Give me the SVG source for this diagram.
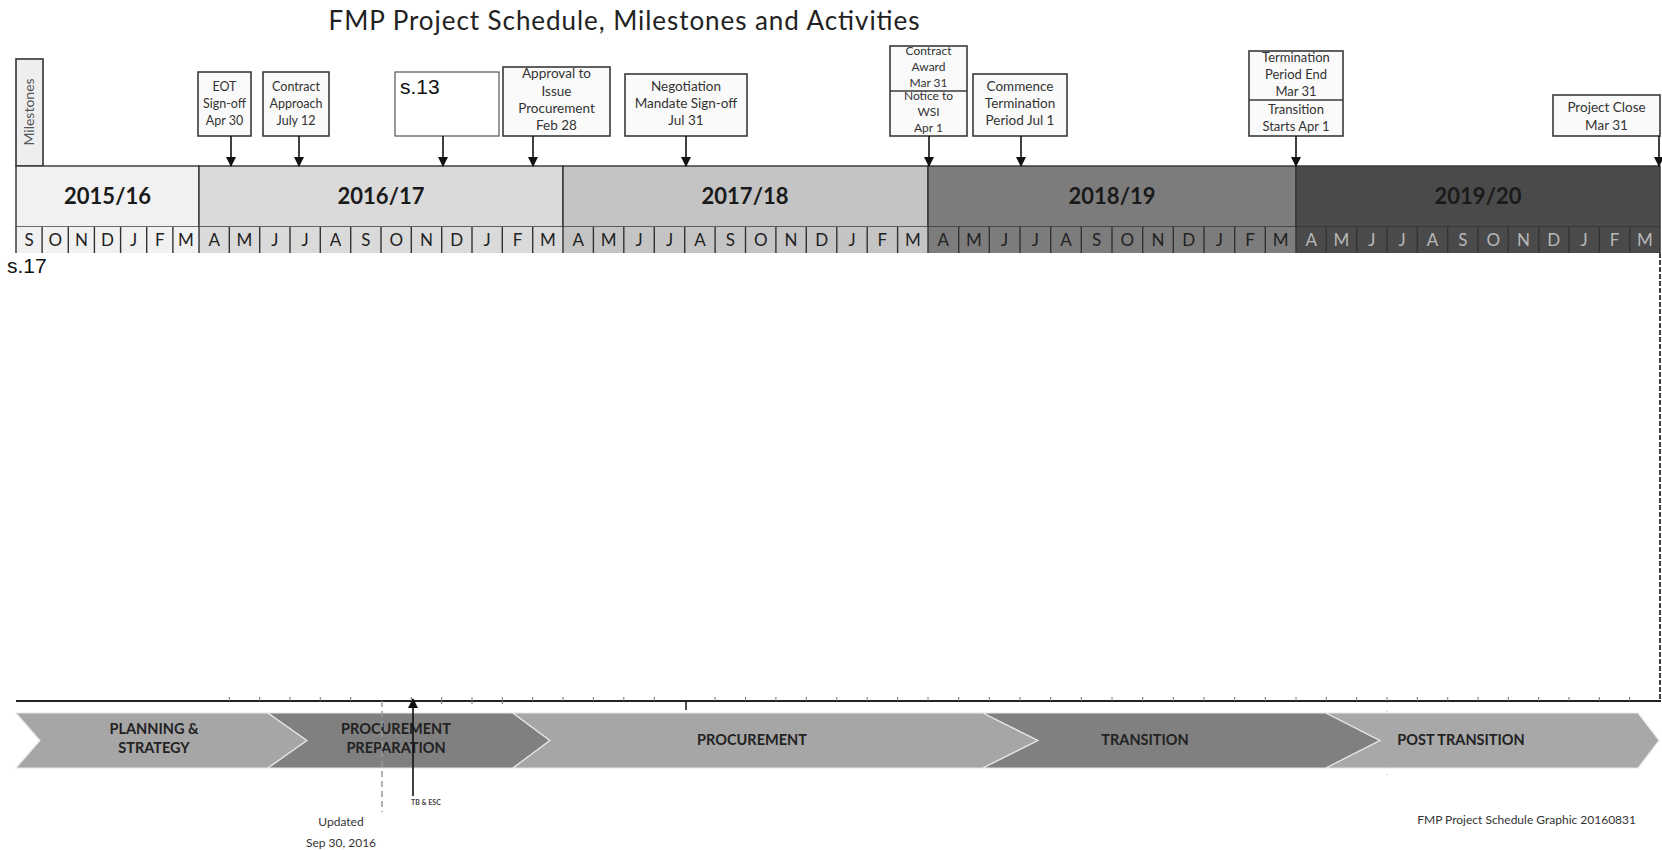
<svg xmlns="http://www.w3.org/2000/svg" width="1662" height="850" viewBox="0 0 1662 850">
<defs>
<style>
.t{font-family:Lato,"Open Sans","Liberation Sans",sans-serif}
.box{fill:#fafafa;stroke:#3a3a3a;stroke-width:1.6}
.lbl{font-family:Lato,"Open Sans","Liberation Sans",sans-serif;font-size:13.5px;fill:#333;text-anchor:middle}
.sm{font-size:12px}
.md{font-size:13px}
.xs{font-size:12.5px}
.yr{font-family:Lato,"Open Sans","Liberation Sans",sans-serif;font-size:22px;font-weight:bold;fill:#1a1a1a;text-anchor:middle}
.mo{font-family:Lato,"Open Sans","Liberation Sans",sans-serif;font-size:17px;fill:#222;text-anchor:middle}
.cell{stroke:#333;stroke-width:1.4}
.ph{font-family:Lato,"Open Sans","Liberation Sans",sans-serif;font-size:14.5px;font-weight:bold;fill:#222;text-anchor:middle}
.chev{stroke:#e6e6e6;stroke-width:1.2}
.arr{stroke:#111;stroke-width:1.6;fill:none}
.red{font-family:"Liberation Sans",Arial,sans-serif;font-size:21px;fill:#111}
</style>
<marker id="ah" viewBox="0 0 10 10" refX="9" refY="5" markerWidth="10" markerHeight="10" markerUnits="userSpaceOnUse" orient="auto">
<path d="M0,0 L10,5 L0,10 Z" fill="#111"/>
</marker>
</defs>
<rect width="1662" height="850" fill="#ffffff"/>

<text class="t" x="624" y="30" font-size="26" fill="#222" text-anchor="middle" textLength="591" lengthAdjust="spacing">FMP Project Schedule, Milestones and Activities</text>

<g id="milestones-label">
<rect x="16" y="59" width="27" height="107" fill="#eeeeee" stroke="#333" stroke-width="1.6"/>
<text class="t" font-size="14" fill="#555" text-anchor="middle" transform="translate(34,112) rotate(-90)">Milestones</text>
</g>

<g id="years">
<rect x="16" y="166" width="183" height="61" fill="#f1f1f1" class="cell"/>
<rect x="199" y="166" width="364" height="61" fill="#dadada" class="cell"/>
<rect x="563" y="166" width="365" height="61" fill="#c4c4c4" class="cell"/>
<rect x="928" y="166" width="368" height="61" fill="#7c7c7c" class="cell"/>
<rect x="1296" y="166" width="364" height="61" fill="#4a4a4a" class="cell"/>
<text class="yr" x="107.5" y="204">2015/16</text>
<text class="yr" x="381" y="204">2016/17</text>
<text class="yr" x="745" y="204">2017/18</text>
<text class="yr" x="1112" y="204">2018/19</text>
<text class="yr" x="1478" y="204" fill="#d6d6d6">2019/20</text>
</g>

<g id="months">
<rect x="16" y="227" width="183" height="26" fill="#f1f1f1"/>
<rect x="199" y="227" width="364" height="26" fill="#dadada"/>
<rect x="563" y="227" width="365" height="26" fill="#c4c4c4"/>
<rect x="928" y="227" width="368" height="26" fill="#7c7c7c"/>
<rect x="1296" y="227" width="364" height="26" fill="#4a4a4a"/>
<path d="M16,227V253 M42.1,227V253 M68.3,227V253 M94.4,227V253 M120.6,227V253 M146.7,227V253 M172.9,227V253 M199,227V253 M229.3,227V253 M259.7,227V253 M290,227V253 M320.3,227V253 M350.7,227V253 M381,227V253 M411.3,227V253 M441.7,227V253 M472,227V253 M502.3,227V253 M532.7,227V253 M563,227V253 M593.4,227V253 M623.8,227V253 M654.3,227V253 M684.7,227V253 M715.1,227V253 M745.5,227V253 M775.9,227V253 M806.3,227V253 M836.8,227V253 M867.2,227V253 M897.6,227V253 M928,227V253 M958.7,227V253 M989.3,227V253 M1020,227V253 M1050.7,227V253 M1081.3,227V253 M1112,227V253 M1142.7,227V253 M1173.3,227V253 M1204,227V253 M1234.7,227V253 M1265.3,227V253 M1296,227V253 M1326.3,227V253 M1356.7,227V253 M1387,227V253 M1417.3,227V253 M1447.7,227V253 M1478,227V253 M1508.3,227V253 M1538.7,227V253 M1569,227V253 M1599.3,227V253 M1629.7,227V253 M1660,227V253" stroke="#333" stroke-width="1.4" fill="none"/>
<g class="mo">
<text x="29.1" y="246">S</text><text x="55.2" y="246">O</text><text x="81.4" y="246">N</text><text x="107.5" y="246">D</text><text x="133.6" y="246">J</text><text x="159.8" y="246">F</text><text x="185.9" y="246">M</text>
<text x="214.2" y="246">A</text><text x="244.5" y="246">M</text><text x="274.8" y="246">J</text><text x="305.2" y="246">J</text><text x="335.5" y="246">A</text><text x="365.8" y="246">S</text><text x="396.2" y="246">O</text><text x="426.5" y="246">N</text><text x="456.8" y="246">D</text><text x="487.2" y="246">J</text><text x="517.5" y="246">F</text><text x="547.8" y="246">M</text>
<text x="578.2" y="246">A</text><text x="608.6" y="246">M</text><text x="639.1" y="246">J</text><text x="669.5" y="246">J</text><text x="699.9" y="246">A</text><text x="730.3" y="246">S</text><text x="760.7" y="246">O</text><text x="791.1" y="246">N</text><text x="821.6" y="246">D</text><text x="852" y="246">J</text><text x="882.4" y="246">F</text><text x="912.8" y="246">M</text>
</g>
<g class="mo" fill="#2e2e2e">
<text x="943.3" y="246">A</text><text x="974" y="246">M</text><text x="1004.7" y="246">J</text><text x="1035.3" y="246">J</text><text x="1066" y="246">A</text><text x="1096.7" y="246">S</text><text x="1127.3" y="246">O</text><text x="1158" y="246">N</text><text x="1188.7" y="246">D</text><text x="1219.3" y="246">J</text><text x="1250" y="246">F</text><text x="1280.7" y="246">M</text>
</g>
<g class="mo" style="fill:#b8b8b8">
<text x="1311.2" y="246">A</text><text x="1341.5" y="246">M</text><text x="1371.8" y="246">J</text><text x="1402.2" y="246">J</text><text x="1432.5" y="246">A</text><text x="1462.8" y="246">S</text><text x="1493.2" y="246">O</text><text x="1523.5" y="246">N</text><text x="1553.8" y="246">D</text><text x="1584.2" y="246">J</text><text x="1614.5" y="246">F</text><text x="1644.8" y="246">M</text>
</g>
</g>

<g id="m-eot">
<rect class="box" x="198" y="72" width="53" height="64"/>
<text class="lbl xs" x="224.5" y="91">EOT</text><text class="lbl xs" x="224.5" y="108">Sign-off</text><text class="lbl xs" x="224.5" y="125">Apr 30</text>
</g>
<g id="m-contract-approach">
<rect class="box" x="263" y="72" width="66" height="64"/>
<text class="lbl xs" x="296" y="91">Contract</text><text class="lbl xs" x="296" y="108">Approach</text><text class="lbl xs" x="296" y="125">July 12</text>
</g>
<g id="m-s13">
<rect x="395" y="72" width="104" height="64" fill="#ffffff" stroke="#555" stroke-width="1.2"/>
<text class="red" x="400" y="94">s.13</text>
</g>
<g id="m-approval">
<rect class="box" x="503" y="67" width="107" height="69"/>
<text class="lbl" x="556.5" y="78">Approval to</text><text class="lbl" x="556.5" y="96">Issue</text><text class="lbl" x="556.5" y="113">Procurement</text><text class="lbl" x="556.5" y="130">Feb 28</text>
</g>
<g id="m-negotiation">
<rect class="box" x="625" y="74" width="122" height="62"/>
<text class="lbl" x="686" y="91">Negotiation</text><text class="lbl" x="686" y="108">Mandate Sign-off</text><text class="lbl" x="686" y="125">Jul 31</text>
</g>
<g id="m-contract-award">
<rect class="box" x="890" y="46" width="77" height="90"/>
<line x1="890" y1="91" x2="967" y2="91" stroke="#3a3a3a" stroke-width="1.6"/>
<text class="lbl sm" x="928.5" y="55">Contract</text><text class="lbl sm" x="928.5" y="71">Award</text><text class="lbl sm" x="928.5" y="87">Mar 31</text>
<text class="lbl sm" x="928.5" y="100">Notice to</text><text class="lbl sm" x="928.5" y="116">WSI</text><text class="lbl sm" x="928.5" y="132">Apr 1</text>
</g>
<g id="m-commence">
<rect class="box" x="973" y="74" width="94" height="62"/>
<text class="lbl" x="1020" y="91">Commence</text><text class="lbl" x="1020" y="108">Termination</text><text class="lbl" x="1020" y="125">Period Jul 1</text>
</g>
<g id="m-termination">
<rect class="box" x="1249" y="51" width="94" height="85"/>
<line x1="1249" y1="100" x2="1343" y2="100" stroke="#3a3a3a" stroke-width="1.6"/>
<text class="lbl md" x="1296" y="62">Termination</text><text class="lbl md" x="1296" y="79">Period End</text><text class="lbl md" x="1296" y="96">Mar 31</text>
<text class="lbl md" x="1296" y="114">Transition</text><text class="lbl md" x="1296" y="131">Starts Apr 1</text>
</g>
<g id="m-project-close">
<rect class="box" x="1553" y="95" width="107" height="41"/>
<text class="lbl" x="1606.5" y="112">Project Close</text><text class="lbl" x="1606.5" y="130">Mar 31</text>
</g>

<g id="s17"><text class="red" x="7" y="273">s.17</text></g>

<g id="timeline">
<line x1="16" y1="701" x2="1661" y2="701" stroke="#222" stroke-width="2"/>
<path d="M229.3,697V701 M259.7,697V701 M290,697V701 M320.3,697V701 M350.7,697V701 M411.3,697V701 M441.7,697V704 M472,697V704 M502.3,697V704 M532.7,697V701 M563,697V701 M593.4,697V701 M623.8,697V701 M654.3,697V701 M715.1,697V701 M745.5,697V701 M775.9,697V701 M806.3,697V701 M836.8,697V701 M867.2,697V701 M897.6,697V701 M928,697V701 M958.7,697V701 M989.3,697V701 M1020,697V701 M1050.7,697V701 M1081.3,697V701 M1112,697V701 M1142.7,697V701 M1173.3,697V701 M1204,697V701 M1234.7,697V701 M1265.3,697V701 M1296,697V701 M1326.3,697V701 M1356.7,697V701 M1387,697V701 M1417.3,697V701 M1447.7,697V701 M1478,697V701 M1508.3,697V701 M1538.7,697V701 M1569,697V701 M1599.3,697V701 M1629.7,697V701" stroke="#777" stroke-width="1"/>
<line x1="686" y1="701" x2="686" y2="710" stroke="#222" stroke-width="1.6"/>
</g>

<g id="phase-planning">
<polygon class="chev" points="16,713 268,713 307,740.5 268,768 16,768 40,740.5" fill="#a6a6a6"/>
<text class="ph" x="154" y="734">PLANNING &amp;</text><text class="ph" x="154" y="753">STRATEGY</text>
</g>
<g id="phase-procurement-prep">
<polygon class="chev" points="268,713 513,713 550,740.5 513,768 268,768 307,740.5" fill="#808080"/>
<text class="ph" x="396" y="734">PROCUREMENT</text><text class="ph" x="396" y="753">PREPARATION</text>
</g>
<g id="phase-procurement">
<polygon class="chev" points="513,713 983,713 1038,740.5 983,768 513,768 550,740.5" fill="#a6a6a6"/>
<text class="ph" x="752" y="745">PROCUREMENT</text>
</g>
<g id="phase-transition">
<polygon class="chev" points="983,713 1326,713 1380,740.5 1326,768 983,768 1038,740.5" fill="#808080"/>
<text class="ph" x="1145" y="745">TRANSITION</text>
</g>
<g id="phase-post-transition">
<polygon class="chev" points="1326,713 1638,713 1659,740.5 1638,768 1326,768 1380,740.5" fill="#a8a8a8"/>
<text class="ph" x="1461" y="745">POST TRANSITION</text>
</g>

<g id="connectors">
<line class="arr" x1="231" y1="136" x2="231" y2="166" marker-end="url(#ah)"/>
<line class="arr" x1="299" y1="136" x2="299" y2="166" marker-end="url(#ah)"/>
<line class="arr" x1="443" y1="136" x2="443" y2="166" marker-end="url(#ah)"/>
<line class="arr" x1="533" y1="136" x2="533" y2="166" marker-end="url(#ah)"/>
<line class="arr" x1="686" y1="136" x2="686" y2="166" marker-end="url(#ah)"/>
<line class="arr" x1="929" y1="136" x2="929" y2="166" marker-end="url(#ah)"/>
<line class="arr" x1="1021" y1="136" x2="1021" y2="166" marker-end="url(#ah)"/>
<line class="arr" x1="1296" y1="136" x2="1296" y2="166" marker-end="url(#ah)"/>
<line class="arr" x1="1659" y1="136" x2="1659" y2="166" marker-end="url(#ah)"/>
<line x1="1660" y1="253" x2="1660" y2="701" stroke="#444" stroke-width="2" stroke-dasharray="5,2"/>
<line x1="382" y1="701" x2="382" y2="812" stroke="#999" stroke-width="1.5" stroke-dasharray="6,4"/>
<line x1="1387" y1="702" x2="1387" y2="775" stroke="#bbb" stroke-width="1" stroke-dasharray="1,8"/>
<line class="arr" x1="413" y1="796" x2="413" y2="699" marker-end="url(#ah)"/>
</g>

<g id="arrow-label"><text class="t" x="411" y="805" font-size="7" font-weight="bold" fill="#444">TB &amp; ESC</text></g>
<g id="updated">
<text class="lbl" x="341" y="826" style="font-size:12px">Updated</text>
<text class="lbl" x="341" y="847" style="font-size:12px">Sep 30, 2016</text>
</g>
<g id="footer"><text class="t" x="1636" y="824" font-size="12" fill="#333" text-anchor="end">FMP Project Schedule Graphic 20160831</text></g>
</svg>
